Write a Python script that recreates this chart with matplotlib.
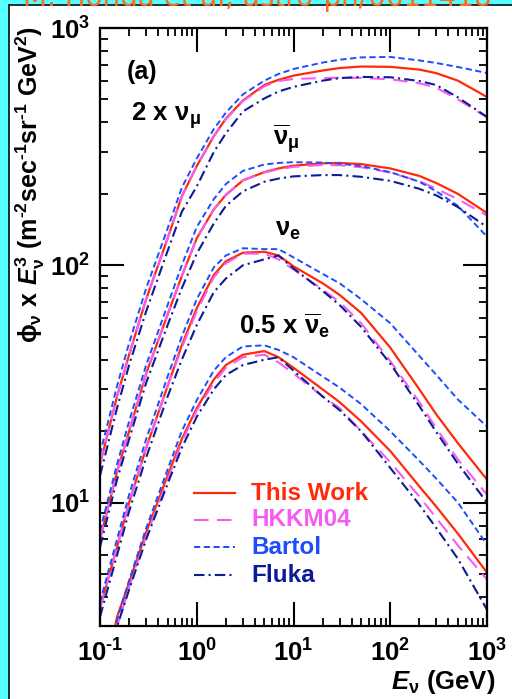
import math
import matplotlib
matplotlib.use("Agg")
import matplotlib.pyplot as plt
from matplotlib.patches import Rectangle
from matplotlib.ticker import LogLocator, FuncFormatter, NullFormatter

plt.rcParams['font.family'] = ['Liberation Sans', 'DejaVu Sans']
plt.rcParams['font.weight'] = 'bold'
plt.rcParams['mathtext.fontset'] = 'custom'
plt.rcParams['mathtext.rm'] = 'Liberation Sans:bold'
plt.rcParams['mathtext.it'] = 'Liberation Sans:bold:italic'
plt.rcParams['mathtext.bf'] = 'Liberation Sans:bold'
plt.rcParams['mathtext.default'] = 'rm'

# Neutrino energy grid (GeV)
energy = [0.1, 0.15, 0.2, 0.3, 0.5, 0.7, 1, 1.5, 2, 3, 5, 7, 10, 20, 30, 50, 100, 200, 300, 500, 1000]

# 2 x nu_mu
numu_this   = [14.5, 28, 42, 72, 130, 195, 262, 350, 415, 495, 575, 605, 630, 662, 678, 688, 686, 668, 645, 600, 512]
numu_hkkm   = [14.5, 28, 42, 72, 130, 195, 262, 350, 413, 492, 568, 598, 610, 615, 617, 616, 608, 585, 560, 500, 420]
numu_bartol = [16, 31, 47, 80, 143, 212, 282, 375, 440, 525, 600, 640, 672, 715, 735, 752, 755, 730, 712, 685, 646]
numu_fluka  = [13, 25, 38, 64, 115, 168, 215, 300, 360, 445, 505, 540, 565, 600, 615, 622, 620, 598, 575, 510, 422]

# anti nu_mu
anumu_this   = [7, 13.5, 20, 35, 62, 90, 130, 172, 198, 228, 247, 256, 263, 269, 270, 267, 256, 238, 222, 200, 166]
anumu_hkkm   = [7, 13.5, 20, 35, 62, 90, 130, 172, 198, 228, 246, 254, 260, 265, 264, 259, 246, 226, 210, 190, 162]
anumu_bartol = [7.6, 14.5, 22, 38, 68, 100, 145, 190, 220, 250, 266, 270, 272, 271, 268, 262, 247, 225, 205, 178, 132]
anumu_fluka  = [6.5, 12.5, 18.5, 32, 56, 80, 112, 150, 178, 205, 225, 232, 237, 240, 240, 236, 227, 210, 197, 176, 145]

# nu_e
nue_this   = [3.6, 6.5, 10, 17, 31, 46, 66, 91, 104, 113, 114, 110, 99, 84, 75, 63, 45, 30, 23.5, 17.8, 12.5]
nue_hkkm   = [3.6, 6.5, 10, 17, 31, 45, 64, 89, 102, 112, 112, 106, 96, 79, 70, 57, 39.5, 26.5, 20.5, 15.2, 10.8]
nue_bartol = [3.8, 7, 10.8, 18.5, 34, 50, 72, 98, 110, 118, 117, 117, 108, 92, 84, 72, 57, 41.5, 34.5, 27.2, 20.9]
nue_fluka  = [3.3, 6, 9.2, 15.5, 28, 40, 56, 77, 88, 100, 106, 110, 97, 78, 68, 55, 38.5, 25.5, 19.8, 14.6, 10]

# 0.5 x anti nu_e
anue_this   = [1.5, 3.3, 4.6, 7.5, 13, 18.5, 25, 33, 38, 42, 43.5, 41, 37, 30, 26.5, 22, 16.5, 11.7, 9.6, 7.4, 5.07]
anue_hkkm   = [1.4, 3.0, 4.4, 7.2, 12.5, 18, 24.5, 32, 37, 41, 42, 39, 35, 28, 25, 20, 14.8, 10.6, 8.6, 6.6, 4.74]
anue_bartol = [1.5, 3.2, 4.7, 7.8, 13.8, 20, 27, 36, 41, 45.5, 46, 44, 41, 34, 30.5, 26, 20, 15, 12.6, 10, 6.65]
anue_fluka  = [1.4, 3.0, 4.3, 7.0, 12, 17, 23, 30, 34.5, 38, 40, 41, 36, 28, 24.5, 20, 14, 9.8, 7.8, 5.8, 3.54]

groups = [
    (numu_this, numu_hkkm, numu_bartol, numu_fluka),
    (anumu_this, anumu_hkkm, anumu_bartol, anumu_fluka),
    (nue_this, nue_hkkm, nue_bartol, nue_fluka),
    (anue_this, anue_hkkm, anue_bartol, anue_fluka),
]

labels = ['This Work', 'HKKM04', 'Bartol', 'Fluka']
colors = ['#ff2a0a', '#f55cf0', '#1e4cff', '#0c1c96']
styles = ['-', (0, (7, 4)), (0, (3.2, 1.8)), (0, (5, 2, 1, 2))]
widths = [1.6, 1.5, 1.4, 1.5]

W, H = 512, 699
fig = plt.figure(figsize=(W / 100, H / 100), dpi=100)
fig.patch.set_facecolor('#55ffff')

# white slide panel, dark edge on its left and top
fig.patches.append(Rectangle((9 / W, -0.05), 1.1, 1.05 - 5 / H, transform=fig.transFigure,
                             facecolor='white', edgecolor='none', zorder=-10))
fig.add_artist(plt.Line2D([9 / W, 9 / W], [0, 1 - 5 / H], color='#102020', linewidth=1.3,
                          transform=fig.transFigure, zorder=-9))
fig.add_artist(plt.Line2D([9 / W, 1], [1 - 5 / H, 1 - 5 / H], color='#102020', linewidth=1.3,
                          transform=fig.transFigure, zorder=-9))

fig.text(257 / W, 1 - 6 / H, 'M. Honda et al, astro-ph/0611418', color='#ff6a1a',
         fontsize=20, fontweight='normal', ha='center', va='baseline',
         family=['DejaVu Sans'], zorder=5)

ax = fig.add_axes([100 / W, 1 - 626 / H, 387 / W, 598 / H])
ax.set_facecolor('white')

for grp in groups:
    for vals, c, ls, lw in zip(grp, colors, styles, widths):
        ax.plot(energy, vals, color=c, linestyle=ls, linewidth=lw)

ax.set_xscale('log')
ax.set_yscale('log')
ax.set_xlim(0.1, 1000)
ax.set_ylim(3.02, 1000)

for s in ax.spines.values():
    s.set_linewidth(1.6)


def decade_label(v, pos):
    e = round(math.log10(v))
    if e < 0:
        return r'$10^{\text{-%d}}$' % (-e)
    return r'$10^{%d}$' % e


fmt = FuncFormatter(decade_label)
ax.xaxis.set_major_locator(LogLocator(base=10, numticks=10))
ax.yaxis.set_major_locator(LogLocator(base=10, numticks=10))
ax.xaxis.set_minor_locator(LogLocator(base=10, subs=range(2, 10), numticks=20))
ax.yaxis.set_minor_locator(LogLocator(base=10, subs=range(2, 10), numticks=20))
ax.xaxis.set_major_formatter(fmt)
ax.yaxis.set_major_formatter(fmt)
ax.xaxis.set_minor_formatter(NullFormatter())
ax.yaxis.set_minor_formatter(NullFormatter())
ax.tick_params(which='both', direction='in', top=True, right=True, labelsize=18.5, color='black')
ax.tick_params(which='major', length=17, width=1.5)
ax.tick_params(which='minor', length=6, width=1.3)
ax.tick_params(axis='x', which='major', pad=10)
ax.tick_params(axis='y', which='major', pad=7)

# legend drawn by hand, text in matching colours
leg_y = [493, 520, 547, 575]
for lab, c, ls, lw, yy in zip(labels, colors, styles, widths, leg_y):
    fy = 1 - yy / H
    fig.add_artist(plt.Line2D([194 / W, 235 / W], [fy, fy], color=c, linestyle=ls,
                              linewidth=lw, transform=fig.transFigure))
    fig.text(251 / W, fy, lab, color=c, fontsize=17.5, fontweight='bold', va='center', ha='left')

fig.text(127 / W, 1 - 72 / H, '(a)', fontsize=18, fontweight='bold', va='center', ha='left')
fig.text(131 / W, 1 - 116 / H, r'$2\ x\ \nu_{\mu}$', fontsize=18.5, va='center', ha='left')
fig.text(273 / W, 1 - 139 / H, r'$\overline{\nu}_{\mu}$', fontsize=18.5, va='center', ha='left')
fig.text(275 / W, 1 - 230 / H, r'$\nu_{e}$', fontsize=18.5, va='center', ha='left')
fig.text(239 / W, 1 - 326 / H, r'$0.5\ x\ \overline{\nu}_{e}$', fontsize=18.5, va='center', ha='left')

fig.text(30 / W, 1 - 184 / H,
         r'$\phi_{\nu}\ x\ \mathit{E}_{\nu}^{3}\ (m^{\text{-2}}sec^{\text{-1}}sr^{\text{-1}}\ GeV^{2})$',
         rotation=90, fontsize=18, va='center', ha='center')

fig.text(495 / W, 1 - 682 / H, r'$\mathit{E}_{\nu}$ (GeV)', fontsize=18.5, va='center', ha='right')

fig.savefig('out.png', dpi=100)
